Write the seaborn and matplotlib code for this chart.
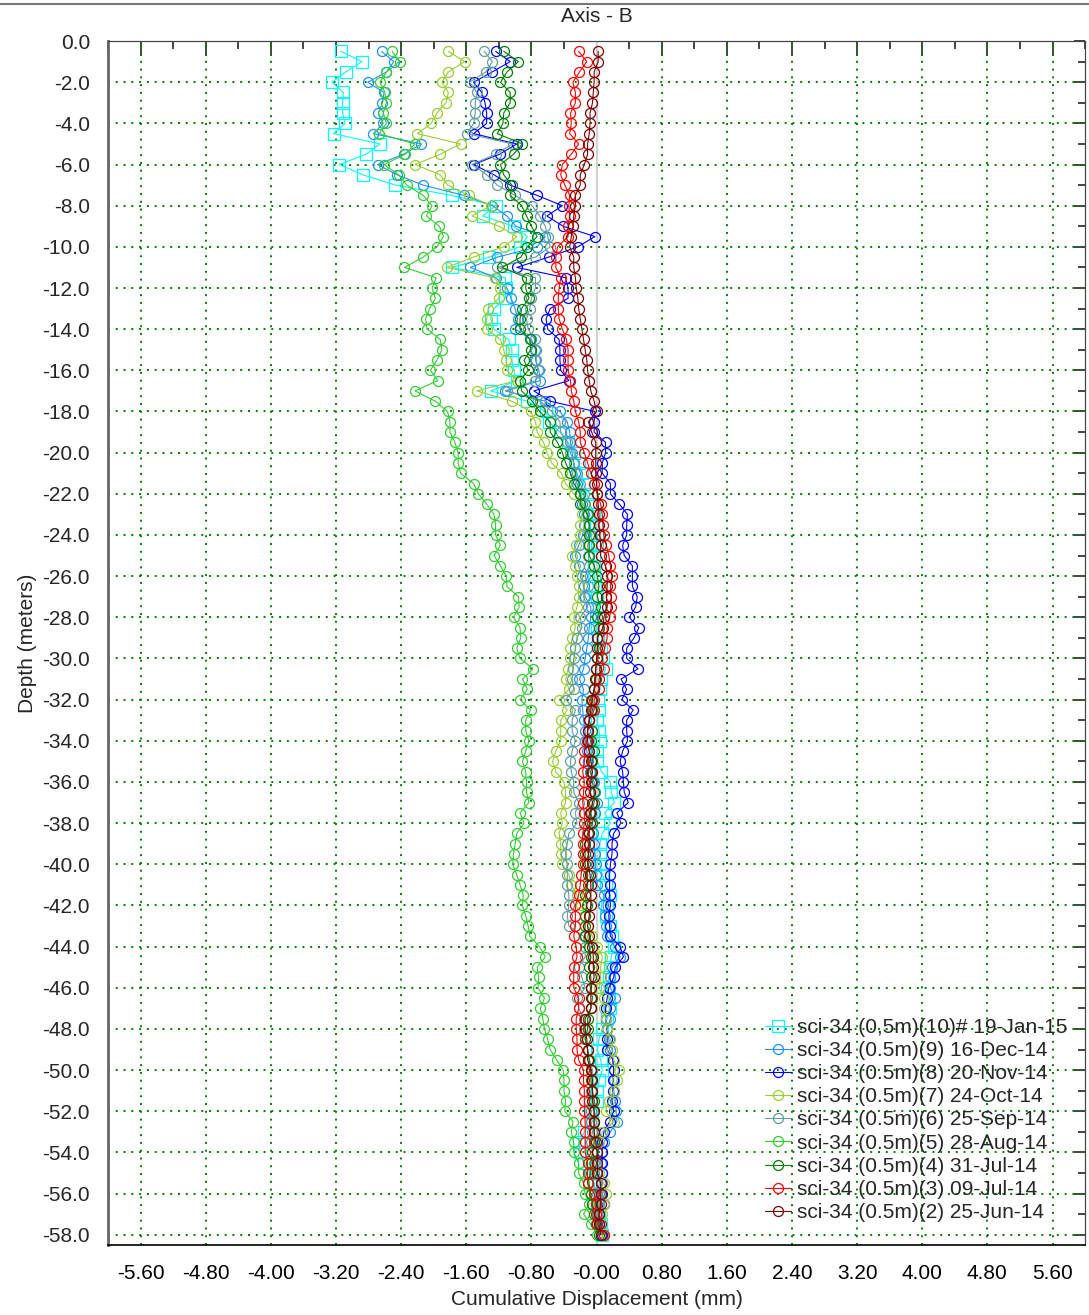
import numpy as np
import seaborn as sns
import matplotlib.pyplot as plt
from matplotlib.lines import Line2D
from matplotlib.ticker import MultipleLocator

# depth stations, 0.5 m apart
depth = np.arange(-0.5, -58.01, -0.5)

# cumulative displacement (mm) per reading, top to bottom
s10 = [-3.14, -2.88, -3.08, -3.25, -3.11, -3.12, -3.12, -3.09, -3.23, -2.66,
       -2.83, -3.16, -2.87, -2.47, -1.78, -1.24, -1.40, -1.02, -0.85, -0.94,
       -1.32, -1.78, -1.12, -1.11, -1.12, -1.26, -1.30, -1.26, -1.08, -1.04,
       -1.04, -1.02, -0.98, -1.30, -0.85, -0.62, -0.59, -0.45, -0.35, -0.28,
       -0.22, -0.18, -0.16, -0.12, -0.08, -0.03, -0.01, 0.01, 0.00, -0.03,
       -0.03, -0.03, -0.02, 0.01, 0.03, 0.03, 0.00, 0.02, 0.05, 0.08,
       0.11, 0.06, 0.04, 0.02, 0.03, 0.01, 0.03, 0.04, 0.01, 0.01,
       0.06, 0.17, 0.18, 0.22, 0.10, 0.17, 0.07, 0.04, 0.04, 0.04,
       0.07, 0.12, 0.17, 0.13, 0.11, 0.16, 0.19, 0.21, 0.18, 0.17,
       0.15, 0.13, 0.15, 0.17, 0.13, 0.07, 0.03, 0.01, 0.05, 0.07,
       0.03, 0.01, 0.01, -0.07, -0.05, -0.15, -0.22, -0.20, -0.16, -0.07,
       -0.03, -0.01, 0.01, 0.03, 0.05, 0.07]
s9 = [-2.64, -2.49, -2.58, -2.81, -2.61, -2.63, -2.68, -2.62, -2.74, -2.15,
      -2.37, -2.69, -2.45, -2.13, -1.63, -1.28, -1.10, -0.99, -0.63, -0.73,
      -1.22, -1.55, -1.24, -1.10, -1.05, -1.00, -0.97, -1.00, -0.80, -0.75,
      -0.75, -0.71, -0.69, -1.12, -0.63, -0.45, -0.36, -0.33, -0.32, -0.30,
      -0.28, -0.26, -0.24, -0.20, -0.18, -0.16, -0.15, -0.17, -0.22, -0.26,
      -0.22, -0.18, -0.16, -0.14, -0.07, -0.07, -0.09, -0.10, -0.12, -0.14,
      -0.16, -0.21, -0.16, -0.18, -0.17, -0.16, -0.14, -0.14, -0.12, -0.10,
      -0.08, -0.03, -0.02, 0.01, -0.02, -0.05, -0.04, -0.03, -0.02, -0.01,
      -0.01, 0.01, 0.09, 0.08, 0.10, 0.11, 0.13, 0.23, 0.29, 0.19,
      0.17, 0.17, 0.23, 0.17, 0.17, 0.13, 0.15, 0.16, 0.20, 0.21,
      0.21, 0.21, 0.23, 0.24, 0.25, 0.17, 0.09, 0.07, 0.05, 0.07,
      0.07, 0.03, 0.01, 0.01, 0.03, 0.07]
s8 = [-1.24, -1.06, -1.28, -1.51, -1.41, -1.37, -1.35, -1.35, -1.51, -0.98,
      -1.19, -1.51, -1.26, -1.06, -0.73, -0.42, -0.61, -0.41, -0.02, -0.23,
      -0.59, -0.98, -0.38, -0.35, -0.35, -0.57, -0.62, -0.60, -0.46, -0.45,
      -0.45, -0.44, -0.34, -0.77, -0.57, -0.02, -0.03, -0.03, 0.11, 0.11,
      0.07, 0.07, 0.17, 0.17, 0.28, 0.38, 0.37, 0.37, 0.32, 0.34,
      0.44, 0.44, 0.44, 0.50, 0.48, 0.40, 0.52, 0.46, 0.37, 0.37,
      0.51, 0.30, 0.37, 0.31, 0.45, 0.37, 0.37, 0.38, 0.32, 0.29,
      0.32, 0.33, 0.34, 0.39, 0.25, 0.30, 0.21, 0.19, 0.19, 0.17,
      0.16, 0.16, 0.16, 0.17, 0.15, 0.16, 0.17, 0.29, 0.33, 0.23,
      0.21, 0.15, 0.13, 0.11, 0.11, 0.13, 0.13, 0.13, 0.20, 0.21,
      0.20, 0.20, 0.19, 0.21, 0.16, 0.09, 0.07, 0.07, 0.07, 0.07,
      0.05, 0.07, 0.09, 0.03, 0.05, 0.07]
s7 = [-1.82, -1.62, -1.82, -1.90, -1.82, -1.85, -1.96, -2.03, -2.20, -1.67,
      -1.92, -2.23, -1.92, -1.83, -1.57, -1.30, -1.53, -1.20, -0.98, -1.14,
      -1.51, -1.84, -1.25, -1.18, -1.20, -1.33, -1.35, -1.35, -1.18, -1.14,
      -1.11, -1.10, -0.98, -1.47, -1.04, -0.81, -0.75, -0.73, -0.65, -0.61,
      -0.55, -0.43, -0.38, -0.28, -0.16, -0.18, -0.20, -0.20, -0.25, -0.30,
      -0.26, -0.24, -0.22, -0.22, -0.24, -0.28, -0.26, -0.30, -0.32, -0.32,
      -0.35, -0.38, -0.34, -0.46, -0.36, -0.44, -0.44, -0.44, -0.50, -0.54,
      -0.50, -0.40, -0.38, -0.38, -0.44, -0.42, -0.46, -0.44, -0.44, -0.42,
      -0.34, -0.31, -0.24, -0.19, -0.14, -0.11, -0.05, 0.01, 0.07, 0.05,
      0.05, 0.03, 0.09, 0.09, 0.11, 0.13, 0.17, 0.19, 0.21, 0.27,
      0.25, 0.21, 0.15, 0.11, 0.21, 0.07, 0.03, 0.01, 0.01, 0.03,
      0.09, 0.11, 0.09, 0.07, 0.07, 0.09]
s6 = [-1.38, -1.28, -1.36, -1.56, -1.47, -1.49, -1.49, -1.51, -1.59, -1.03,
      -1.24, -1.53, -1.35, -1.22, -1.00, -0.79, -0.70, -0.63, -0.60, -0.57,
      -0.75, -1.22, -0.75, -0.75, -0.80, -0.82, -0.86, -0.84, -0.76, -0.74,
      -0.74, -0.72, -0.75, -1.10, -0.69, -0.55, -0.45, -0.44, -0.36, -0.32,
      -0.28, -0.24, -0.20, -0.16, -0.14, -0.12, -0.09, -0.07, -0.11, -0.10,
      -0.09, -0.14, -0.11, -0.16, -0.11, -0.20, -0.18, -0.24, -0.26, -0.28,
      -0.29, -0.30, -0.28, -0.38, -0.26, -0.30, -0.30, -0.26, -0.30, -0.32,
      -0.31, -0.28, -0.28, -0.22, -0.26, -0.24, -0.34, -0.36, -0.38, -0.36,
      -0.36, -0.36, -0.34, -0.34, -0.36, -0.34, -0.16, -0.14, -0.14, -0.22,
      -0.18, -0.14, -0.24, -0.22, -0.16, -0.16, -0.14, -0.11, -0.09, -0.05,
      -0.05, -0.07, -0.09, -0.07, -0.07, -0.05, -0.07, -0.05, -0.03, -0.03,
      0.01, 0.01, 0.03, 0.01, 0.03, 0.05]
s5 = [-2.51, -2.42, -2.58, -2.66, -2.60, -2.58, -2.62, -2.58, -2.67, -2.23,
      -2.35, -2.61, -2.43, -2.33, -2.13, -2.02, -2.09, -1.93, -1.88, -1.96,
      -2.13, -2.36, -1.97, -2.02, -1.98, -2.05, -2.10, -2.08, -1.92, -1.90,
      -1.96, -2.04, -1.95, -2.23, -1.98, -1.83, -1.80, -1.80, -1.74, -1.70,
      -1.70, -1.67, -1.51, -1.45, -1.35, -1.26, -1.24, -1.24, -1.18, -1.26,
      -1.18, -1.11, -1.10, -0.96, -0.95, -1.02, -0.94, -0.93, -0.98, -0.94,
      -0.78, -0.91, -0.85, -0.94, -0.81, -0.87, -0.87, -0.83, -0.87, -0.91,
      -0.87, -0.86, -0.86, -0.83, -0.94, -0.89, -0.98, -1.00, -1.02, -1.03,
      -0.98, -0.94, -0.90, -0.91, -0.87, -0.84, -0.82, -0.70, -0.63, -0.73,
      -0.71, -0.72, -0.64, -0.69, -0.66, -0.64, -0.60, -0.57, -0.49, -0.41,
      -0.40, -0.40, -0.38, -0.39, -0.29, -0.31, -0.28, -0.28, -0.22, -0.22,
      -0.16, -0.14, -0.09, -0.16, -0.07, 0.01]
s4 = [-1.14, -0.96, -1.10, -1.18, -1.06, -1.06, -1.14, -1.15, -1.22, -0.91,
      -1.02, -1.18, -1.14, -1.04, -1.06, -0.92, -0.86, -0.80, -0.73, -0.85,
      -0.93, -1.16, -0.86, -0.87, -0.83, -0.92, -0.94, -0.94, -0.82, -0.81,
      -0.89, -0.84, -0.94, -0.92, -0.79, -0.70, -0.57, -0.57, -0.48, -0.42,
      -0.38, -0.32, -0.28, -0.20, -0.20, -0.11, -0.09, -0.09, -0.09, -0.09,
      -0.03, 0.01, 0.03, 0.01, 0.05, 0.01, 0.03, 0.01, 0.03, 0.01,
      -0.01, -0.01, -0.03, -0.07, -0.05, -0.09, -0.05, -0.07, -0.03, -0.05,
      -0.07, -0.05, -0.03, -0.03, -0.07, -0.05, -0.11, -0.14, -0.14, -0.14,
      -0.11, -0.11, -0.14, -0.12, -0.14, -0.14, -0.14, -0.09, -0.07, -0.09,
      -0.07, -0.07, -0.05, -0.07, -0.11, -0.11, -0.14, -0.11, -0.09, -0.07,
      -0.07, -0.05, -0.03, -0.03, -0.03, -0.03, -0.03, -0.05, -0.07, -0.07,
      -0.11, -0.07, -0.05, -0.03, -0.01, 0.03]
s3 = [-0.22, -0.12, -0.21, -0.29, -0.26, -0.26, -0.32, -0.31, -0.33, -0.22,
      -0.31, -0.42, -0.44, -0.39, -0.33, -0.34, -0.33, -0.35, -0.35, -0.48,
      -0.50, -0.50, -0.44, -0.46, -0.47, -0.47, -0.46, -0.42, -0.37, -0.35,
      -0.35, -0.35, -0.32, -0.31, -0.28, -0.26, -0.22, -0.20, -0.20, -0.15,
      -0.11, -0.07, -0.03, 0.01, 0.05, 0.07, 0.08, 0.09, 0.12, 0.15,
      0.17, 0.19, 0.17, 0.18, 0.18, 0.16, 0.13, 0.13, 0.10, 0.07,
      0.09, 0.03, 0.03, -0.03, -0.03, -0.09, -0.11, -0.12, -0.15, -0.15,
      -0.17, -0.15, -0.16, -0.17, -0.15, -0.15, -0.17, -0.17, -0.17, -0.17,
      -0.19, -0.20, -0.22, -0.26, -0.26, -0.26, -0.28, -0.25, -0.24, -0.28,
      -0.28, -0.28, -0.22, -0.22, -0.25, -0.25, -0.24, -0.24, -0.22, -0.16,
      -0.16, -0.15, -0.15, -0.15, -0.14, -0.14, -0.14, -0.14, -0.11, -0.11,
      -0.11, -0.03, -0.01, -0.01, 0.01, 0.09]
s2 = [0.02, 0.02, -0.03, -0.03, -0.04, -0.05, -0.08, -0.08, -0.09, -0.11,
      -0.11, -0.15, -0.20, -0.20, -0.26, -0.26, -0.28, -0.29, -0.31, -0.33,
      -0.28, -0.28, -0.26, -0.25, -0.23, -0.22, -0.20, -0.18, -0.16, -0.14,
      -0.12, -0.11, -0.09, -0.07, -0.03, 0.00, -0.10, -0.06, -0.01, -0.01,
      -0.01, -0.01, 0.00, 0.01, 0.02, 0.03, 0.03, 0.04, 0.05, 0.05,
      0.11, 0.13, 0.13, 0.12, 0.13, 0.09, 0.08, 0.01, 0.01, 0.00,
      -0.01, -0.02, -0.03, -0.05, -0.07, -0.09, -0.11, -0.11, -0.09, -0.07,
      -0.05, -0.07, -0.08, -0.05, -0.08, -0.08, -0.09, -0.09, -0.10, -0.11,
      -0.08, -0.07, -0.07, -0.07, -0.09, -0.11, -0.09, -0.05, -0.04, -0.04,
      -0.03, -0.07, -0.07, -0.07, -0.14, -0.14, -0.12, -0.11, -0.11, -0.07,
      -0.05, -0.05, -0.05, -0.03, -0.03, -0.03, -0.01, 0.01, 0.01, 0.01,
      0.05, 0.05, 0.05, 0.03, 0.03, 0.05]

series = [s10, s9, s8, s7, s6, s5, s4, s3, s2]
labels = ["sci-34 (0,5m)(10)# 19-Jan-15", "sci-34 (0.5m)(9) 16-Dec-14",
          "sci-34 (0.5m)(8) 20-Nov-14", "sci-34 (0.5m)(7) 24-Oct-14",
          "sci-34 (0.5m)(6) 25-Sep-14", "sci-34 (0.5m)(5) 28-Aug-14",
          "sci-34 (0.5m)(4) 31-Jul-14", "sci-34 (0.5m)(3) 09-Jul-14",
          "sci-34 (0.5m)(2) 25-Jun-14"]
colors = ["#00ffff", "#1e90ff", "#0000ff", "#9acd32", "#5f9ea0",
          "#32cd32", "#008000", "#ff0000", "#800000"]
markers = ["s", "o", "o", "o", "o", "o", "o", "o", "o"]

x_ticks = [-5.6, -4.8, -4.0, -3.2, -2.4, -1.6, -0.8, 0.0, 0.8, 1.6, 2.4, 3.2, 4.0, 4.8, 5.6]
x_tick_labels = ["-5.60", "-4.80", "-4.00", "-3.20", "-2.40", "-1.60", "-0.80", "-0.00",
                 "0.80", "1.60", "2.40", "3.20", "4.00", "4.80", "5.60"]
y_ticks = list(range(0, -59, -2))
y_tick_labels = ["0.0"] + [f"{v:.1f}" for v in y_ticks[1:]]

sns.set_style("white")
plt.rcParams['font.family'] = ['Liberation Sans', 'DejaVu Sans']
FS = 15

fig = plt.figure(figsize=(10.89, 13.15), dpi=100)
ax = fig.add_axes([0.0992, 0.0532, 0.8972, 0.9156])

ax.axvline(0, color="#d3d3d3", lw=1.6, zorder=1)

for vals, lab, col, mk in zip(series, labels, colors, markers):
    sns.lineplot(x=vals, y=depth, sort=False, estimator=None, ax=ax,
                 color=col, marker=mk, markersize=8 if mk == "s" else 7.2,
                 markerfacecolor="none", markeredgecolor=col, markeredgewidth=0.9,
                 linewidth=0.8, label=lab, zorder=3)

ax.set_xlim(-6, 6)
ax.set_ylim(-58.5, 0)
ax.set_xticks(x_ticks)
ax.set_xticklabels(x_tick_labels)
ax.set_yticks(y_ticks)
ax.set_yticklabels(y_tick_labels)
ax.xaxis.set_minor_locator(MultipleLocator(0.4))
ax.yaxis.set_minor_locator(MultipleLocator(1))

ax.tick_params(axis="x", which="major", direction="inout", length=12, width=1.2,
               labelsize=FS, pad=8, colors="black")
ax.tick_params(axis="x", which="minor", direction="inout", length=10, width=1.2, color="#555555")
ax.tick_params(axis="y", which="major", direction="inout", length=18, width=1.5,
               labelsize=FS, pad=4, color="#333333")
ax.tick_params(axis="y", which="minor", direction="inout", length=12, width=1.2, color="#333333")

# inward ticks on top and right
top = ax.secondary_xaxis("top")
top.set_xticks(x_ticks)
top.xaxis.set_minor_locator(MultipleLocator(0.4))
top.tick_params(which="major", direction="in", length=11, width=1.2, labeltop=False)
top.tick_params(which="minor", direction="in", length=6, width=1.2)
right = ax.secondary_yaxis("right")
right.set_yticks(y_ticks)
right.yaxis.set_minor_locator(MultipleLocator(1))
right.tick_params(which="major", direction="in", length=8, width=1.2, labelright=False)
right.tick_params(which="minor", direction="in", length=5, width=1.2)
for sec in (top, right):
    for sp in sec.spines.values():
        sp.set_color("#444444")

ax.grid(True, which="major", color="#008000", linestyle=(0, (1, 3)), linewidth=1.4)
ax.set_axisbelow(True)

ax.spines["left"].set_color("#666666")
ax.spines["left"].set_linewidth(2)
ax.spines["bottom"].set_color("black")
ax.spines["bottom"].set_linewidth(1.2)
ax.spines["top"].set_color("#444444")
ax.spines["right"].set_color("#444444")

ax.set_xlabel("Cumulative Displacement (mm)", fontsize=FS, labelpad=5)
ax.set_ylabel("Depth (meters)", fontsize=FS, labelpad=4)
fig.text(597 / 1089, 1 - 16 / 1315, "Axis - B", ha="center", va="center", fontsize=FS)
fig.add_artist(Line2D([0, 1], [1 - 4 / 1315] * 2, color="#777777", lw=1.5,
                      transform=fig.transFigure))

ax.legend(loc="lower right", bbox_to_anchor=(0.982, 0.019), frameon=False, fontsize=FS,
          handlelength=1.25, handletextpad=0.3, labelspacing=0.2,
          borderaxespad=0, borderpad=0)

fig.savefig("out.png", dpi=100)
